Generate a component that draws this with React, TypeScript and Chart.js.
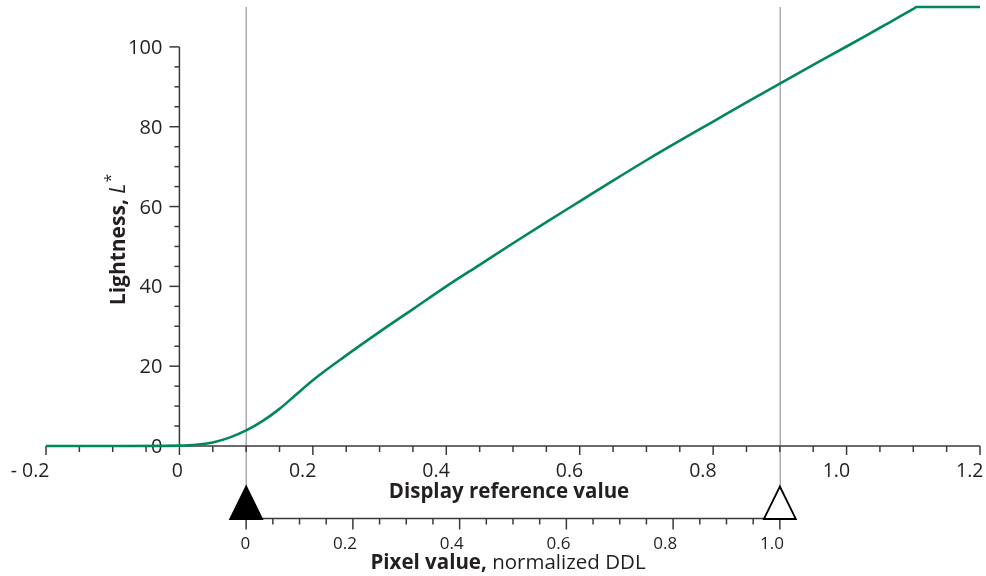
import React, { useEffect, useRef } from 'react';
import { Chart, registerables } from 'chart.js';

Chart.register(...registerables);

// ---- data ----
const displayValues = [-0.2, -0.1, 0, 0.025, 0.05, 0.075, 0.1, 0.125, 0.15, 0.175, 0.2, 0.25, 0.3, 0.35, 0.4, 0.45, 0.5, 0.55, 0.6, 0.65, 0.7, 0.75, 0.8, 0.85, 0.9, 0.95, 1.0, 1.05, 1.1, 1.105, 1.2];
const lightness = [0, 0, 0.1, 0.3, 0.9, 2.1, 3.9, 6.3, 9.3, 12.9, 16.5, 22.7, 28.6, 34.3, 40.0, 45.4, 50.8, 56.1, 61.3, 66.5, 71.6, 76.5, 81.3, 86.1, 90.8, 95.5, 100.1, 104.8, 109.5, 110, 110];

const xTicks = [-0.2, 0, 0.2, 0.4, 0.6, 0.8, 1.0, 1.2];
const xTickLabels = ['- 0.2', '0', '0.2', '0.4', '0.6', '0.8', '1.0', '1.2'];
const xMinorStep = 0.05;
const yTicks = [0, 20, 40, 60, 80, 100];
const yTickLabels = ['0', '20', '40', '60', '80', '100'];
const yMinorStep = 5;
const pixelTicks = [0, 0.2, 0.4, 0.6, 0.8, 1.0];
const pixelTickLabels = ['0', '0.2', '0.4', '0.6', '0.8', '1.0'];
const pixelMinorStep = 0.05;
// display reference values of pixel value 0 (black) and 1 (white)
const blackLevel = 0.1;
const whiteLevel = 0.9;

const xTitle = 'Display reference value';
const yTitleBold = 'Lightness, ';
const yTitleItalic = 'L';
const yTitleSup = '*';
const x2TitleBold = 'Pixel value,';
const x2TitleNormal = ' normalized DDL';

const X_MIN = -0.2;
const X_MAX = 1.2;
const Y_MIN = 0;
const Y_MAX = 110;

const FONT = '"Open Sans", "Noto Sans", sans-serif';
const TEXT = '#231f20';
const AXIS = '#3a3a3a';
const GREEN = 'rgb(0,135,90)';
const GREY = '#ababab';

function steps(from: number, to: number, step: number): number[] {
  const n = Math.round((to - from) / step);
  const out: number[] = [];
  for (let i = 0; i <= n; i++) out.push(from + i * step);
  return out;
}
function isMajor(v: number, majors: number[]) {
  return majors.some((m) => Math.abs(m - v) < 1e-6);
}

const axesPlugin = {
  id: 'customAxes',
  beforeDatasetsDraw(chart: any) {
    const ctx: CanvasRenderingContext2D = chart.ctx;
    const xs = chart.scales.x;
    const ys = chart.scales.y;
    const x2 = chart.scales.x2;
    const area = chart.chartArea;
    const y0 = ys.getPixelForValue(0);
    const x0 = xs.getPixelForValue(0);
    const x2AxisY = y0 + 72.5;
    const apexY = x2AxisY - 32;

    ctx.save();
    // grey marker lines
    ctx.strokeStyle = GREY;
    ctx.lineWidth = 1.5;
    [blackLevel, whiteLevel].forEach((v) => {
      const px = Math.round(xs.getPixelForValue(v)) + 0.25;
      ctx.beginPath();
      ctx.moveTo(px, area.top);
      ctx.lineTo(px, apexY);
      ctx.stroke();
    });

    ctx.strokeStyle = AXIS;
    ctx.lineWidth = 1.5;
    // x axis
    ctx.beginPath();
    ctx.moveTo(xs.getPixelForValue(X_MIN), y0);
    ctx.lineTo(xs.getPixelForValue(X_MAX), y0);
    ctx.stroke();
    steps(X_MIN, X_MAX, xMinorStep).forEach((v) => {
      const px = xs.getPixelForValue(v);
      const len = isMajor(v, xTicks) ? 9 : 6;
      ctx.beginPath();
      ctx.moveTo(px, y0);
      ctx.lineTo(px, y0 + len);
      ctx.stroke();
    });
    // y axis
    ctx.beginPath();
    ctx.moveTo(x0, y0);
    ctx.lineTo(x0, ys.getPixelForValue(100));
    ctx.stroke();
    steps(0, 100, yMinorStep).forEach((v) => {
      const py = ys.getPixelForValue(v);
      const len = isMajor(v, yTicks) ? 10 : 5;
      ctx.beginPath();
      ctx.moveTo(x0, py);
      ctx.lineTo(x0 - len, py);
      ctx.stroke();
    });
    // pixel value axis
    ctx.beginPath();
    ctx.moveTo(x2.getPixelForValue(0), x2AxisY);
    ctx.lineTo(x2.getPixelForValue(1), x2AxisY);
    ctx.stroke();
    steps(0, 1, pixelMinorStep).forEach((v) => {
      const px = x2.getPixelForValue(v);
      const len = isMajor(v, pixelTicks) ? 11 : 6;
      ctx.beginPath();
      ctx.moveTo(px, x2AxisY);
      ctx.lineTo(px, x2AxisY + len);
      ctx.stroke();
    });

    // triangles
    const tri = (px: number, filled: boolean) => {
      ctx.beginPath();
      ctx.moveTo(px, apexY);
      ctx.lineTo(px + 16, x2AxisY + 0.5);
      ctx.lineTo(px - 16, x2AxisY + 0.5);
      ctx.closePath();
      ctx.fillStyle = filled ? '#000' : '#fff';
      ctx.fill();
      ctx.strokeStyle = '#000';
      ctx.lineWidth = 1.8;
      ctx.lineJoin = 'miter';
      ctx.stroke();
    };
    tri(x2.getPixelForValue(0), true);
    tri(x2.getPixelForValue(1), false);

    // tick labels
    ctx.fillStyle = TEXT;
    ctx.textBaseline = 'alphabetic';
    ctx.font = `19.5px ${FONT}`;
    ctx.textAlign = 'right';
    xTicks.forEach((v, i) => {
      ctx.fillText(xTickLabels[i], xs.getPixelForValue(v) + 3.5, y0 + 30.5);
    });
    ctx.font = `20px ${FONT}`;
    yTicks.forEach((v, i) => {
      ctx.fillText(yTickLabels[i], x0 - 17, ys.getPixelForValue(v) + 7);
    });
    ctx.font = `17px ${FONT}`;
    pixelTicks.forEach((v, i) => {
      ctx.fillText(pixelTickLabels[i], x2.getPixelForValue(v) + 4, x2AxisY + 30.5);
    });

    // titles
    const cx = (xs.getPixelForValue(X_MIN) + xs.getPixelForValue(X_MAX)) / 2 - 4;
    ctx.textAlign = 'center';
    ctx.font = `bold 20.5px ${FONT}`;
    ctx.fillText(xTitle, cx, y0 + 52);

    ctx.textAlign = 'left';
    ctx.font = `bold 20.5px ${FONT}`;
    const wB = ctx.measureText(x2TitleBold).width;
    ctx.font = `20.5px ${FONT}`;
    const wN = ctx.measureText(x2TitleNormal).width;
    const sx = cx - 1 - (wB + wN) / 2;
    ctx.font = `bold 20.5px ${FONT}`;
    ctx.fillText(x2TitleBold, sx, x2AxisY + 50.5);
    ctx.font = `20.5px ${FONT}`;
    ctx.fillText(x2TitleNormal, sx + wB, x2AxisY + 50.5);

    // y title (rotated)
    ctx.save();
    ctx.translate(125, 240);
    ctx.rotate(-Math.PI / 2);
    ctx.font = `bold 21px ${FONT}`;
    const w1 = ctx.measureText(yTitleBold).width;
    ctx.font = `italic 21px ${FONT}`;
    const w2 = ctx.measureText(yTitleItalic).width;
    ctx.font = `16px ${FONT}`;
    const w3 = ctx.measureText(yTitleSup).width;
    let tx = -(w1 + w2 + w3) / 2;
    ctx.font = `bold 21px ${FONT}`;
    ctx.fillText(yTitleBold, tx, 0);
    tx += w1;
    ctx.font = `italic 21px ${FONT}`;
    ctx.fillText(yTitleItalic, tx, 0);
    tx += w2;
    ctx.font = `16px ${FONT}`;
    ctx.fillText(yTitleSup, tx + 1, -9);
    ctx.restore();

    ctx.restore();
  },
};

export default function App() {
  const ref = useRef<HTMLCanvasElement | null>(null);
  useEffect(() => {
    if (!ref.current) return;
    const x2Min = (X_MIN - blackLevel) / (whiteLevel - blackLevel);
    const x2Max = (X_MAX - blackLevel) / (whiteLevel - blackLevel);
    const chart = new Chart(ref.current, {
      type: 'line',
      data: {
        datasets: [
          {
            data: displayValues.map((x, i) => ({ x, y: lightness[i] })),
            borderColor: GREEN,
            borderWidth: 2.6,
            pointRadius: 0,
            cubicInterpolationMode: 'monotone',
            fill: false,
            clip: 6,
          } as any,
        ],
      },
      options: {
        animation: false,
        responsive: false,
        devicePixelRatio: 1,
        layout: { padding: { left: 46, right: 6, top: 7, bottom: 130 } },
        plugins: { legend: { display: false }, tooltip: { enabled: false } },
        events: [],
        scales: {
          x: { type: 'linear', min: X_MIN, max: X_MAX, display: false },
          x2: { type: 'linear', axis: 'x', min: x2Min, max: x2Max, display: false } as any,
          y: { type: 'linear', min: Y_MIN, max: Y_MAX, display: false },
        },
      },
      plugins: [axesPlugin],
    });
    return () => chart.destroy();
  }, []);
  return (
    <div style={{ position: 'absolute', left: 0, top: 0, width: 986, height: 576, background: '#fff' }}>
      <canvas ref={ref} width={986} height={576} style={{ display: 'block', width: 986, height: 576 }} />
    </div>
  );
}
